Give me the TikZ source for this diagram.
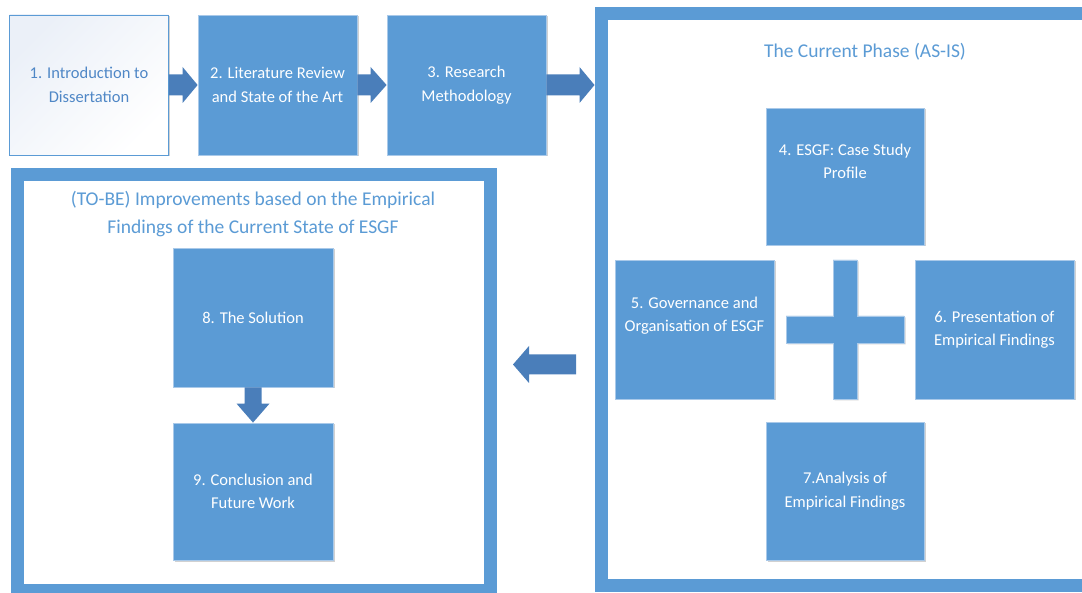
\documentclass[tikz,border=0pt]{standalone}
\usepackage{fontspec}
\setmainfont{Carlito}
\usetikzlibrary{calc,shadows}

\definecolor{boxblue}{HTML}{5B9BD5}
\definecolor{arrowblue}{HTML}{4A7EBA}
\definecolor{edgeblue}{HTML}{A9C9E9}
\definecolor{titleblue}{HTML}{5B9BD5}
\definecolor{introtext}{HTML}{4F87C6}
\definecolor{pale}{HTML}{EBF0F8}

\tikzset{
  stage/.style={rectangle, fill=boxblue, draw=edgeblue, line width=0.8pt,
    inner sep=0pt, text=white, align=center,
    font=\fontsize{16.5}{23.5}\selectfont,
    drop shadow={shadow xshift=1.5pt, shadow yshift=-1.5pt, opacity=0.18, fill=black}},
  introbox/.style={stage, draw=boxblue, text=introtext,
    top color=pale, bottom color=white, shading angle=45},
  phase/.style={rectangle, draw=boxblue, line width=13pt, fill=white, inner sep=0pt},
  phasetitle/.style={text=titleblue, align=center, inner sep=0pt,
    font=\fontsize{19.5}{28}\selectfont},
  arrowfill/.style={fill=arrowblue},
}

% block arrow: start, tip, half shaft width, half head width, head length
\newcommand\blockarrow[5]{%
  \coordinate (ba-h) at ($(#2)!#5!(#1)$);
  \fill[arrowfill] ($(#1)!#3!90:(#2)$) -- ($(ba-h)!#3!90:(#2)$)
    -- ($(ba-h)!#4!90:(#2)$) -- (#2) -- ($(ba-h)!#4!-90:(#2)$)
    -- ($(ba-h)!#3!-90:(#2)$) -- ($(#1)!#3!-90:(#2)$) -- cycle;}

\begin{document}
\begin{tikzpicture}[x=1pt, y=-1pt]
\useasboundingbox (0,0) rectangle (1082,593);
\clip (0,0) rectangle (1082,593);

% the two phase frames
\node[phase, minimum width=489pt, minimum height=571.5pt] (asis) at (845.5,299.75) {};
\node[phase, minimum width=473pt, minimum height=415.5pt] (tobe) at (253.5,382.75) {};

\node[phasetitle] (asistitle) at (865,52) {The Current Phase (AS-IS)};
\node[phasetitle] (tobetitle) at (253,214)
  {(TO-BE) Improvements based on the Empirical\\Findings of the Current State of ESGF};

% top row
\node[introbox, minimum width=159pt, minimum height=140pt] (b1) at (89,85)
  {1. Introduction to\\Dissertation};
\node[stage, minimum width=159pt, minimum height=140pt] (b2) at (277.5,85)
  {2. Literature Review\\and State of the Art};
\node[stage, minimum width=159pt, minimum height=140pt] (b3) at (466.5,85)
  {3. Research\\Methodology};

% current phase
\node[stage, minimum width=158pt, minimum height=137pt] (b4) at (845,176.5)
  {4. ESGF: Case Study\\Profile\\\strut};
\node[stage, minimum width=159pt, minimum height=139pt] (b5) at (694.5,329.5)
  {5. Governance and\\Organisation of ESGF\\\strut};
\node[stage, minimum width=159pt, minimum height=139pt] (b6) at (994.5,329.5)
  {6. Presentation of\\Empirical Findings};
\node[stage, minimum width=158pt, minimum height=138pt] (b7) at (845,491)
  {7.Analysis of\\Empirical Findings};

% plus sign between the four stages
\coordinate (plus) at (845,329.5);
\filldraw[fill=boxblue, draw=edgeblue, line width=0.8pt,
  drop shadow={shadow xshift=1.5pt, shadow yshift=-1.5pt, opacity=0.18, fill=black}]
  ($(plus)+(-12,-69.5)$) -- ($(plus)+(12,-69.5)$) -- ($(plus)+(12,-13.5)$)
  -- ($(plus)+(59,-13.5)$) -- ($(plus)+(59,13.5)$) -- ($(plus)+(12,13.5)$)
  -- ($(plus)+(12,69.5)$) -- ($(plus)+(-12,69.5)$) -- ($(plus)+(-12,13.5)$)
  -- ($(plus)+(-59,13.5)$) -- ($(plus)+(-59,-13.5)$) -- ($(plus)+(-12,-13.5)$) -- cycle;

% improvements phase
\node[stage, minimum width=160pt, minimum height=139pt] (b8) at (253,317.5)
  {8. The Solution};
\node[stage, minimum width=160pt, minimum height=137pt] (b9) at (253,491.5)
  {9. Conclusion and\\Future Work};

% arrows
\coordinate (a3end) at (asis.west |- b3.east);
\coordinate (back-s) at (576,364.5);
\coordinate (back-t) at (513,364.5);

\blockarrow{b1.east}{b2.west}{10.5pt}{18pt}{15pt}
\blockarrow{b2.east}{b3.west}{10.5pt}{18pt}{16pt}
\blockarrow{b3.east}{a3end}{10.5pt}{18pt}{15pt}
\blockarrow{back-s}{back-t}{10pt}{18.5pt}{16pt}
\blockarrow{b8.south}{b9.north}{8.5pt}{16.5pt}{19pt}
\end{tikzpicture}
\end{document}
